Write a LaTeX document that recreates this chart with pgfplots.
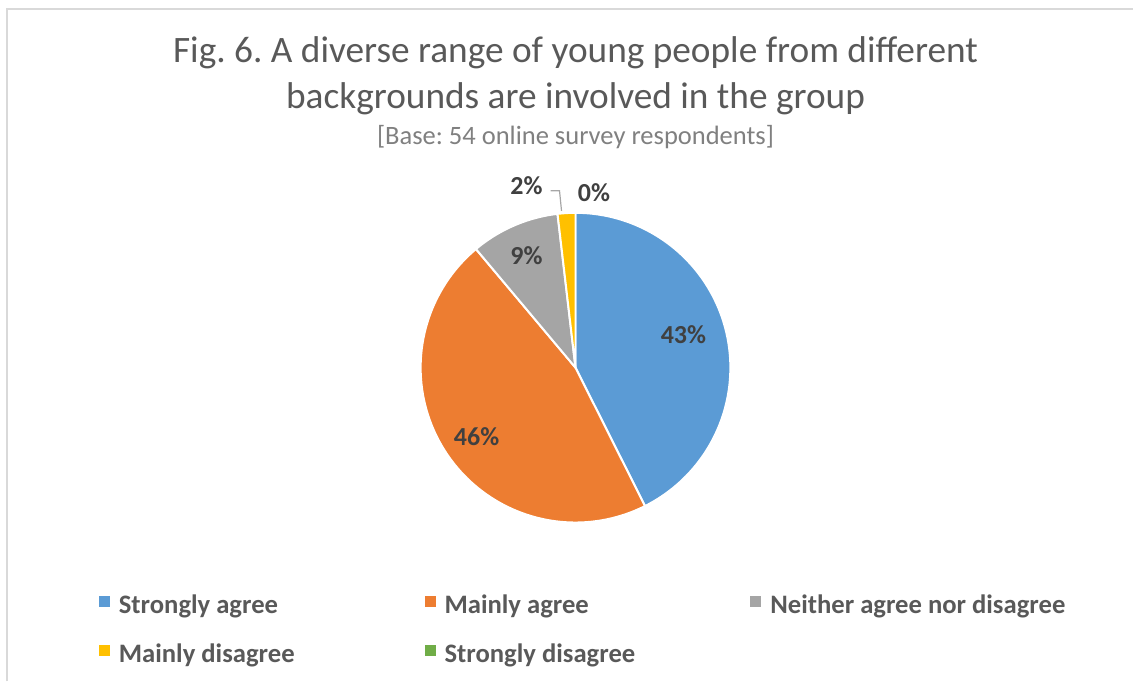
\documentclass[border=0pt]{standalone}
\usepackage{pgfplots}
\pgfplotsset{compat=1.18}
\usepackage{fontspec}
\setmainfont{Carlito}
\frenchspacing
\definecolor{cA}{HTML}{5B9BD5}
\definecolor{cB}{HTML}{ED7D31}
\definecolor{cC}{HTML}{A5A5A5}
\definecolor{cD}{HTML}{FFC000}
\definecolor{cE}{HTML}{70AD47}
\definecolor{titlegrey}{HTML}{595959}
\definecolor{subgrey}{HTML}{808080}
\definecolor{labgrey}{HTML}{404040}
\definecolor{bordergrey}{HTML}{D9D9D9}
\definecolor{leadgrey}{HTML}{A6A6A6}
\begin{document}
\begin{tikzpicture}
% respondent counts (base: 54)
\def\nA{23}\def\nB{25}\def\nC{5}\def\nD{1}\def\nE{0}
\pgfmathsetmacro\tot{\nA+\nB+\nC+\nD+\nE}
\pgfmathsetmacro\aA{0}
\pgfmathsetmacro\aB{\aA+360*\nA/\tot}
\pgfmathsetmacro\aC{\aB+360*\nB/\tot}
\pgfmathsetmacro\aD{\aC+360*\nC/\tot}
\pgfmathsetmacro\aE{\aD+360*\nD/\tot}
\begin{axis}[
  width=850.5pt, height=511.5pt, scale only axis,
  xmin=0, xmax=1134, ymin=0, ymax=682,
  hide axis, clip=false,
  legend columns=3,
  legend cell align=left,
  legend style={at={(0.0873,0.1525)}, anchor=north west, draw=none, fill=none,
    inner sep=0pt, outer sep=0pt, column sep=0pt, row sep=8pt,
    font=\fontsize{20}{24}\selectfont\bfseries, text=titlegrey,
    nodes={inner sep=0pt, outer sep=0pt}},
  legend image code/.code={\fill (0pt,-8.25pt) rectangle (8.25pt,0pt);},
]
\path (axis cs:0,0) rectangle (axis cs:1134,682);
\draw[bordergrey, line width=1.5pt] (axis cs:7,0) -- (axis cs:7,673) -- (axis cs:1134,673);

\addplot[fill=cA, draw=white, line width=1.5pt, line join=round, domain=\aA:\aB, samples=90, forget plot]
  ({576+155*sin(x)},{314+155*cos(x)}) -- (axis cs:576,314) -- cycle;
\addplot[fill=cB, draw=white, line width=1.5pt, line join=round, domain=\aB:\aC, samples=90, forget plot]
  ({576+155*sin(x)},{314+155*cos(x)}) -- (axis cs:576,314) -- cycle;
\addplot[fill=cC, draw=white, line width=1.5pt, line join=round, domain=\aC:\aD, samples=30, forget plot]
  ({576+155*sin(x)},{314+155*cos(x)}) -- (axis cs:576,314) -- cycle;
\addplot[fill=cD, draw=white, line width=1.5pt, line join=round, domain=\aD:\aE, samples=10, forget plot]
  ({576+155*sin(x)},{314+155*cos(x)}) -- (axis cs:576,314) -- cycle;

% leader line for 2%
\addplot[leadgrey, line width=0.9pt, forget plot] coordinates {(551,491) (560,491) (562,471)};

% data labels
\addplot[draw=none, mark=none, forget plot, nodes near coords, point meta=explicit symbolic,
  nodes near coords style={anchor=center, font=\fontsize{19.5}{23}\selectfont\bfseries, text=labgrey}]
  coordinates {(684,347) [43\%] (477,245) [46\%] (527,426) [9\%] (527,496) [2\%] (594.5,489) [0\%]};

\addlegendimage{fill=cA, draw=none}
\addlegendentry{\hspace{6.75pt}\makebox[229.5pt][l]{Strongly agree}\rule[-9pt]{0pt}{36pt}}
\addlegendimage{fill=cB, draw=none}
\addlegendentry{\hspace{6.75pt}\makebox[229.5pt][l]{Mainly agree}\rule[-9pt]{0pt}{36pt}}
\addlegendimage{fill=cC, draw=none}
\addlegendentry{\hspace{6.75pt}\makebox[229.5pt][l]{Neither agree nor disagree}\rule[-9pt]{0pt}{36pt}}
\addlegendimage{fill=cD, draw=none}
\addlegendentry{\hspace{6.75pt}\makebox[229.5pt][l]{Mainly disagree}\rule[-9pt]{0pt}{36pt}}
\addlegendimage{fill=cE, draw=none}
\addlegendentry{\hspace{6.75pt}\makebox[229.5pt][l]{Strongly disagree}\rule[-9pt]{0pt}{36pt}}

\node[anchor=base, font=\fontsize{28}{33}\selectfont, text=titlegrey] at (axis cs:576,619.5) {Fig. 6. A diverse range of young people from different};
\node[anchor=base, font=\fontsize{28}{33}\selectfont, text=titlegrey] at (axis cs:576,573.5) {backgrounds are involved in the group};
\node[anchor=base, font=\fontsize{19.9}{23}\selectfont, text=subgrey] at (axis cs:576,537) {[Base: 54 online survey respondents]};
\end{axis}
\end{tikzpicture}
\end{document}
